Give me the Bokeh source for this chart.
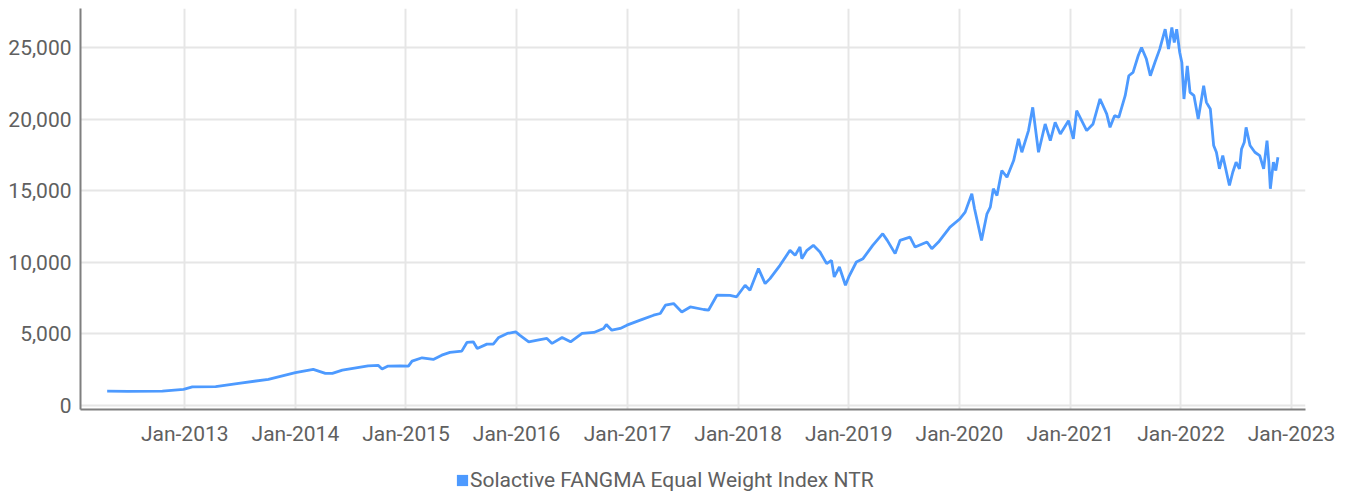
import pandas as pd
from bokeh.plotting import figure
from bokeh.layouts import column
from bokeh.models import (Range1d, FixedTicker, NumeralTickFormatter, Legend,
                          LegendItem, ColumnDataSource)
from bokeh.embed import file_html
from bokeh.resources import INLINE

series_name = "Solactive FANGMA Equal Weight Index NTR"

dates = [
    "2012-04-20", "2012-06-28", "2012-10-19", "2012-12-28", "2013-01-26", "2013-04-13",
    "2013-06-28", "2013-10-04", "2014-01-01", "2014-03-01", "2014-04-10", "2014-05-03",
    "2014-06-05", "2014-08-29", "2014-10-02", "2014-10-14", "2014-11-03", "2014-12-13",
    "2015-01-09", "2015-01-21", "2015-02-23", "2015-04-01", "2015-04-29", "2015-05-26",
    "2015-07-04", "2015-07-21", "2015-08-11", "2015-08-24", "2015-09-25", "2015-10-16",
    "2015-11-03", "2015-12-01", "2015-12-29", "2016-01-11", "2016-02-10", "2016-03-10",
    "2016-04-10", "2016-04-27", "2016-05-30", "2016-06-27", "2016-08-04", "2016-09-12",
    "2016-10-14", "2016-10-23", "2016-11-10", "2016-12-08", "2016-12-30", "2017-02-12",
    "2017-03-28", "2017-04-19", "2017-05-06", "2017-06-02", "2017-06-29", "2017-07-27",
    "2017-09-09", "2017-09-25", "2017-10-23", "2017-12-05", "2017-12-27", "2018-01-24",
    "2018-02-09", "2018-03-09", "2018-03-31", "2018-04-16", "2018-05-19", "2018-06-21",
    "2018-07-08", "2018-07-24", "2018-07-30", "2018-08-16", "2018-09-06", "2018-09-28",
    "2018-10-20", "2018-11-05", "2018-11-14", "2018-12-01", "2018-12-21", "2019-01-01",
    "2019-01-26", "2019-02-17", "2019-03-21", "2019-04-23", "2019-05-08", "2019-06-03",
    "2019-06-19", "2019-07-22", "2019-08-08", "2019-09-16", "2019-10-02", "2019-10-24",
    "2019-12-01", "2020-01-03", "2020-01-20", "2020-02-11", "2020-02-20", "2020-03-14",
    "2020-04-01", "2020-04-12", "2020-04-22", "2020-05-04", "2020-05-20", "2020-06-06",
    "2020-06-28", "2020-07-14", "2020-07-25", "2020-08-16", "2020-08-30", "2020-09-18",
    "2020-10-10", "2020-10-27", "2020-11-12", "2020-11-29", "2020-12-26", "2021-01-11",
    "2021-01-22", "2021-02-24", "2021-03-17", "2021-04-09", "2021-05-01", "2021-05-12",
    "2021-05-27", "2021-06-10", "2021-07-01", "2021-07-13", "2021-07-27", "2021-08-13",
    "2021-08-24", "2021-09-09", "2021-09-22", "2021-10-07", "2021-10-23", "2021-11-10",
    "2021-11-21", "2021-12-02", "2021-12-10", "2021-12-18", "2021-12-28", "2022-01-04",
    "2022-01-11", "2022-01-22", "2022-01-31", "2022-02-13", "2022-02-27", "2022-03-17",
    "2022-03-26", "2022-04-08", "2022-04-19", "2022-04-28", "2022-05-08", "2022-05-19",
    "2022-06-10", "2022-06-21", "2022-07-02", "2022-07-13", "2022-07-20", "2022-07-29",
    "2022-08-04", "2022-08-17", "2022-09-02", "2022-09-18", "2022-10-01", "2022-10-12",
    "2022-10-18", "2022-10-23", "2022-11-02", "2022-11-10", "2022-11-17",
]

values = [
    1000, 990, 1010, 1130, 1300, 1320,
    1550, 1830, 2290, 2525, 2250, 2250,
    2475, 2775, 2800, 2550, 2755, 2760,
    2750, 3100, 3335, 3220, 3520, 3710,
    3800, 4405, 4450, 3990, 4290, 4290,
    4755, 5035, 5145, 4915, 4450, 4570,
    4685, 4340, 4755, 4450, 5035, 5105,
    5385, 5660, 5265, 5385, 5615, 5965,
    6310, 6430, 7010, 7125, 6540, 6890,
    6710, 6660, 7705, 7700, 7600, 8405,
    8055, 9570, 8520, 8870, 9800, 10845,
    10495, 11075, 10265, 10845, 11195, 10725,
    9915, 10145, 8985, 9680, 8405, 8985,
    10030, 10265, 11195, 12010, 11540, 10615,
    11540, 11770, 11075, 11425, 10960, 11425,
    12470, 13055, 13515, 14800, 13750, 11540,
    13400, 13865, 15150, 14680, 16425, 15955,
    17120, 18635, 17700, 19215, 20840, 17700,
    19680, 18515, 19795, 18980, 19910, 18635,
    20610, 19215, 19680, 21425, 20380, 19445,
    20260, 20145, 21655, 23050, 23280, 24445,
    25025, 24215, 23050, 23980, 24910, 26305,
    24910, 26420, 25370, 26305, 24675, 23980,
    21425, 23745, 21885, 21655, 20030, 22350,
    21190, 20725, 18170, 17700, 16540, 17470,
    15380, 16305, 17005, 16540, 17935, 18400,
    19445, 18170, 17700, 17470, 16540, 18515,
    17005, 15150, 17005, 16425, 17350,
]

x_tick_dates = ["2013-01-01", "2014-01-01", "2015-01-01", "2016-01-01", "2017-01-01",
                "2018-01-01", "2019-01-01", "2020-01-01", "2021-01-01", "2022-01-01",
                "2023-01-01"]
x_tick_labels = ["Jan-2013", "Jan-2014", "Jan-2015", "Jan-2016", "Jan-2017", "Jan-2018",
                 "Jan-2019", "Jan-2020", "Jan-2021", "Jan-2022", "Jan-2023"]
y_ticks = [0, 5000, 10000, 15000, 20000, 25000]

FONT = "Roboto"
LINE_COLOR = "#4D9AFF"
TEXT_COLOR = "#606060"

src = ColumnDataSource(dict(date=pd.to_datetime(dates), value=values))

p = figure(width=1351, height=463, x_axis_type="datetime",
           output_backend="svg", toolbar_location=None,
           x_range=Range1d(pd.Timestamp("2012-01-23"), pd.Timestamp("2023-02-16")),
           y_range=Range1d(-280, 27750),
           min_border_left=80, min_border_right=46, min_border_top=8,
           min_border_bottom=54)
p.outline_line_color = None
p.background_fill_color = "white"
p.border_fill_color = "white"

tick_ms = [int(pd.Timestamp(d).value // 10**6) for d in x_tick_dates]
p.xaxis.ticker = FixedTicker(ticks=tick_ms)
p.xaxis.major_label_overrides = {t: lab for t, lab in zip(tick_ms, x_tick_labels)}
p.yaxis.ticker = FixedTicker(ticks=y_ticks)
p.yaxis.formatter = NumeralTickFormatter(format="0,0")

for ax in (p.xaxis[0], p.yaxis[0]):
    ax.axis_line_color = "#7f7f7f"
    ax.axis_line_width = 2
    ax.major_tick_line_color = None
    ax.minor_tick_line_color = None
    ax.major_label_text_font = FONT
    ax.major_label_text_font_size = "21px"
    ax.major_label_text_color = TEXT_COLOR
p.xaxis.major_label_standoff = 6
p.yaxis.major_label_standoff = 3

p.xgrid.grid_line_color = "#e6e6e6"
p.xgrid.grid_line_width = 2
p.ygrid.grid_line_color = "#e6e6e6"
p.ygrid.grid_line_width = 2

p.line(x="date", y="value", source=src, line_color=LINE_COLOR, line_width=2.8)

# legend strip below the chart (its frame is aligned with the chart's frame)
lg = figure(width=1351, height=30, output_backend="svg", toolbar_location=None,
            x_range=Range1d(0, 1), y_range=Range1d(0, 1),
            x_axis_location=None, y_axis_location=None,
            min_border_left=0, min_border_right=0, min_border_top=0, min_border_bottom=0)
lg.grid.visible = False
lg.outline_line_color = None
lg.background_fill_color = "white"
lg.border_fill_color = "white"
proxy = lg.quad(left="date", right="date", top="value", bottom="value", source=src,
                fill_color=LINE_COLOR, line_color=None)
proxy.visible = False

legend = Legend(items=[LegendItem(label=series_name, renderers=[proxy])],
                location=(375, 1), orientation="horizontal",
                glyph_width=14, glyph_height=14, label_standoff=1,
                padding=0, margin=0, border_line_color=None,
                background_fill_alpha=0,
                label_text_font=FONT, label_text_font_size="21px",
                label_text_color=TEXT_COLOR)
lg.add_layout(legend, "center")

layout = column(p, lg, spacing=0)
open("out.html", "w").write(file_html(layout, INLINE))
